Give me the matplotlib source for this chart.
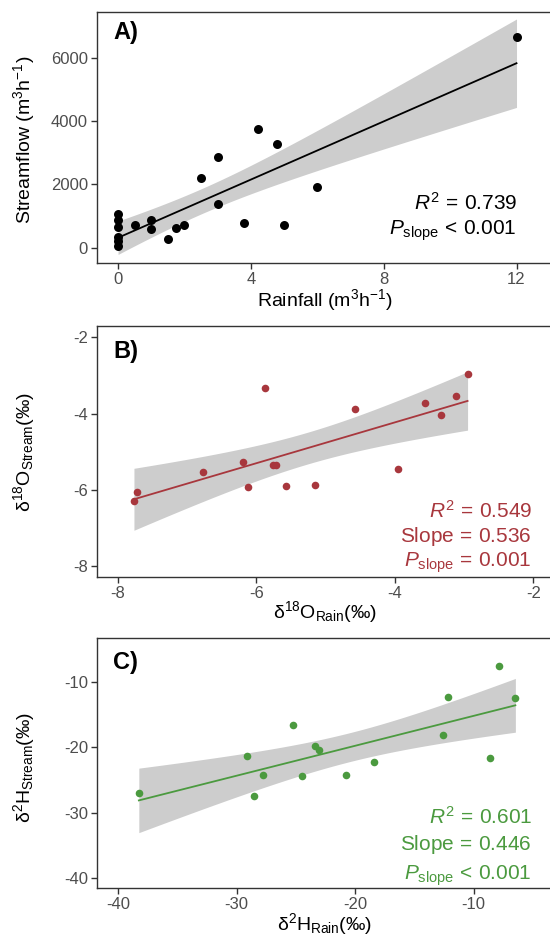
import math
import numpy as np
import matplotlib
matplotlib.use("Agg")
import matplotlib.pyplot as plt

plt.rcParams['font.family'] = ['Liberation Sans', 'DejaVu Sans']
plt.rcParams['mathtext.fontset'] = 'custom'
plt.rcParams['mathtext.rm'] = 'Liberation Sans'
plt.rcParams['mathtext.it'] = 'Liberation Sans:italic'
plt.rcParams['mathtext.bf'] = 'Liberation Sans:bold'
plt.rcParams['axes.unicode_minus'] = False

# ---- Data ----
rain_flow = [0, 0, 0, 0, 0, 0, 0.5, 1.0, 1.0, 1.5, 1.75, 2.0, 2.5, 3.0, 3.0,
             3.8, 4.2, 4.8, 5.0, 6.0, 12.0]
stream_flow = [1060, 880, 660, 330, 220, 40, 705, 860, 600, 284, 611, 705,
               2200, 2874, 1368, 779, 3747, 3263, 705, 1926, 6652]

o18_rain = [-7.77, -7.72, -6.77, -6.20, -6.12, -5.88, -5.76, -5.72, -5.57,
            -5.16, -4.58, -3.96, -3.57, -3.34, -3.11, -2.95]
o18_stream = [-6.29, -6.05, -5.52, -5.28, -5.93, -3.34, -5.35, -5.35, -5.91,
              -5.88, -3.88, -5.45, -3.71, -4.03, -3.55, -2.97]

h2_rain = [-38.25, -29.1, -28.51, -27.77, -25.28, -24.51, -23.42, -23.09,
           -20.78, -18.44, -12.61, -12.16, -8.61, -7.90, -6.48]
h2_stream = [-26.91, -21.31, -27.37, -24.26, -16.62, -24.42, -19.73, -20.34,
             -24.26, -22.28, -18.10, -12.29, -21.56, -7.61, -12.39]

xticks_a = [0, 4, 8, 12]
yticks_a = [0, 2000, 4000, 6000]
xticks_b = [-8, -6, -4, -2]
yticks_b = [-8, -6, -4, -2]
xticks_c = [-40, -30, -20, -10]
yticks_c = [-40, -30, -20, -10]

stats_a = [r"$R^{2}\,=\,0.739$", r"$P_{\mathrm{slope}}\,<\,0.001$"]
stats_b = [r"$R^{2}\,=\,0.549$", r"$\mathrm{Slope}\,=\,0.536$", r"$P_{\mathrm{slope}}\,=\,0.001$"]
stats_c = [r"$R^{2}\,=\,0.601$", r"$\mathrm{Slope}\,=\,0.446$", r"$P_{\mathrm{slope}}\,<\,0.001$"]

RED = "#A8373D"
GREEN = "#4B9A3F"
BAND = "#CDCDCD"
FRAME = "#333333"
TICKC = "#4D4D4D"


def t975(df):
    c = math.gamma((df + 1) / 2) / (math.sqrt(df * math.pi) * math.gamma(df / 2))

    def cdf(t):
        xs = np.linspace(0, t, 4001)
        f = c * (1 + xs ** 2 / df) ** (-(df + 1) / 2)
        return 0.5 + np.trapezoid(f, xs)

    lo, hi = 0.0, 10.0
    for _ in range(60):
        mid = (lo + hi) / 2
        if cdf(mid) < 0.975:
            lo = mid
        else:
            hi = mid
    return (lo + hi) / 2


def fit_band(x, y):
    x = np.asarray(x, float)
    y = np.asarray(y, float)
    n = len(x)
    b, a = np.polyfit(x, y, 1)
    res = y - (a + b * x)
    s = math.sqrt(np.sum(res ** 2) / (n - 2))
    xm = x.mean()
    sxx = np.sum((x - xm) ** 2)
    X = np.linspace(x.min(), x.max(), 100)
    Y = a + b * X
    se = s * np.sqrt(1 / n + (X - xm) ** 2 / sxx)
    t = t975(n - 2)
    return X, Y, Y - t * se, Y + t * se


W, H = 550, 939
fig = plt.figure(figsize=(W / 100, H / 100), dpi=100)


def make_ax(top, bottom, left=97, right=561):
    return fig.add_axes([left / W, 1 - bottom / H, (right - left) / W, (bottom - top) / H])


def style(ax, xlim, ylim, xt, yt):
    ax.set_xlim(*xlim)
    ax.set_ylim(*ylim)
    ax.set_xticks(xt)
    ax.set_yticks(yt)
    for sp in ax.spines.values():
        sp.set_color(FRAME)
        sp.set_linewidth(1.0)
    ax.tick_params(direction='out', length=4, width=1, color=FRAME,
                   labelcolor=TICKC, labelsize=12, pad=2.5)


panels = [
    dict(x=rain_flow, y=stream_flow, color="black", top=11.7, bottom=263.3,
         xlim=(-0.634, 13.34), ylim=(-495, 7453), xt=xticks_a, yt=yticks_a,
         letter="A)", s=42, stats=stats_a, stat_y=[203, 231],
         ylab=r"Streamflow (m$^{3}$h$^{-1}$)", ylab_y=140,
         xlab=r"Rainfall (m$^{3}$h$^{-1}$)", xlab_y=300, letter_y=33, stat_x=517),
    dict(x=o18_rain, y=o18_stream, color=RED, top=325.7, bottom=576.7,
         xlim=(-8.304, -1.60), ylim=(-8.28, -1.694), xt=xticks_b, yt=yticks_b,
         letter="B)", s=30, stats=stats_b, stat_y=[511, 537, 563],
         ylab=r"δ$^{18}$O$_{\mathrm{Stream}}$(‰)", ylab_y=452,
         xlab=r"δ$^{18}$O$_{\mathrm{Rain}}$(‰)", xlab_y=612, letter_y=351, stat_x=532),
    dict(x=h2_rain, y=h2_stream, color=GREEN, top=638.3, bottom=888.3,
         xlim=(-41.78, -2.63), ylim=(-41.53, -3.33), xt=xticks_c, yt=yticks_c,
         letter="C)", s=30, stats=stats_c, stat_y=[817, 844, 876],
         ylab=r"δ$^{2}$H$_{\mathrm{Stream}}$(‰)", ylab_y=767,
         xlab=r"δ$^{2}$H$_{\mathrm{Rain}}$(‰)", xlab_y=924, letter_y=663, stat_x=532),
]

for p in panels:
    ax = make_ax(p["top"], p["bottom"])
    style(ax, p["xlim"], p["ylim"], p["xt"], p["yt"])
    X, Y, lo, hi = fit_band(p["x"], p["y"])
    ax.fill_between(X, lo, hi, color=BAND, lw=0, zorder=1)
    ax.plot(X, Y, color=p["color"], lw=1.3, zorder=2)
    ax.scatter(p["x"], p["y"], s=p["s"], color=p["color"], lw=0, zorder=3)
    fig.text(113 / W, 1 - p["letter_y"] / H, p["letter"], fontsize=17,
             fontweight='bold', ha='left', va='center')
    for txt, yy in zip(p["stats"], p["stat_y"]):
        fig.text(p["stat_x"] / W, 1 - yy / H, txt, fontsize=15, color=p["color"],
                 ha='right', va='center')
    fig.text(24 / W, 1 - p["ylab_y"] / H, p["ylab"], fontsize=14, rotation=90,
             ha='center', va='center', color='black')
    fig.text(325 / W, 1 - p["xlab_y"] / H, p["xlab"], fontsize=14,
             ha='center', va='center', color='black')

fig.savefig("out.png", dpi=100)
